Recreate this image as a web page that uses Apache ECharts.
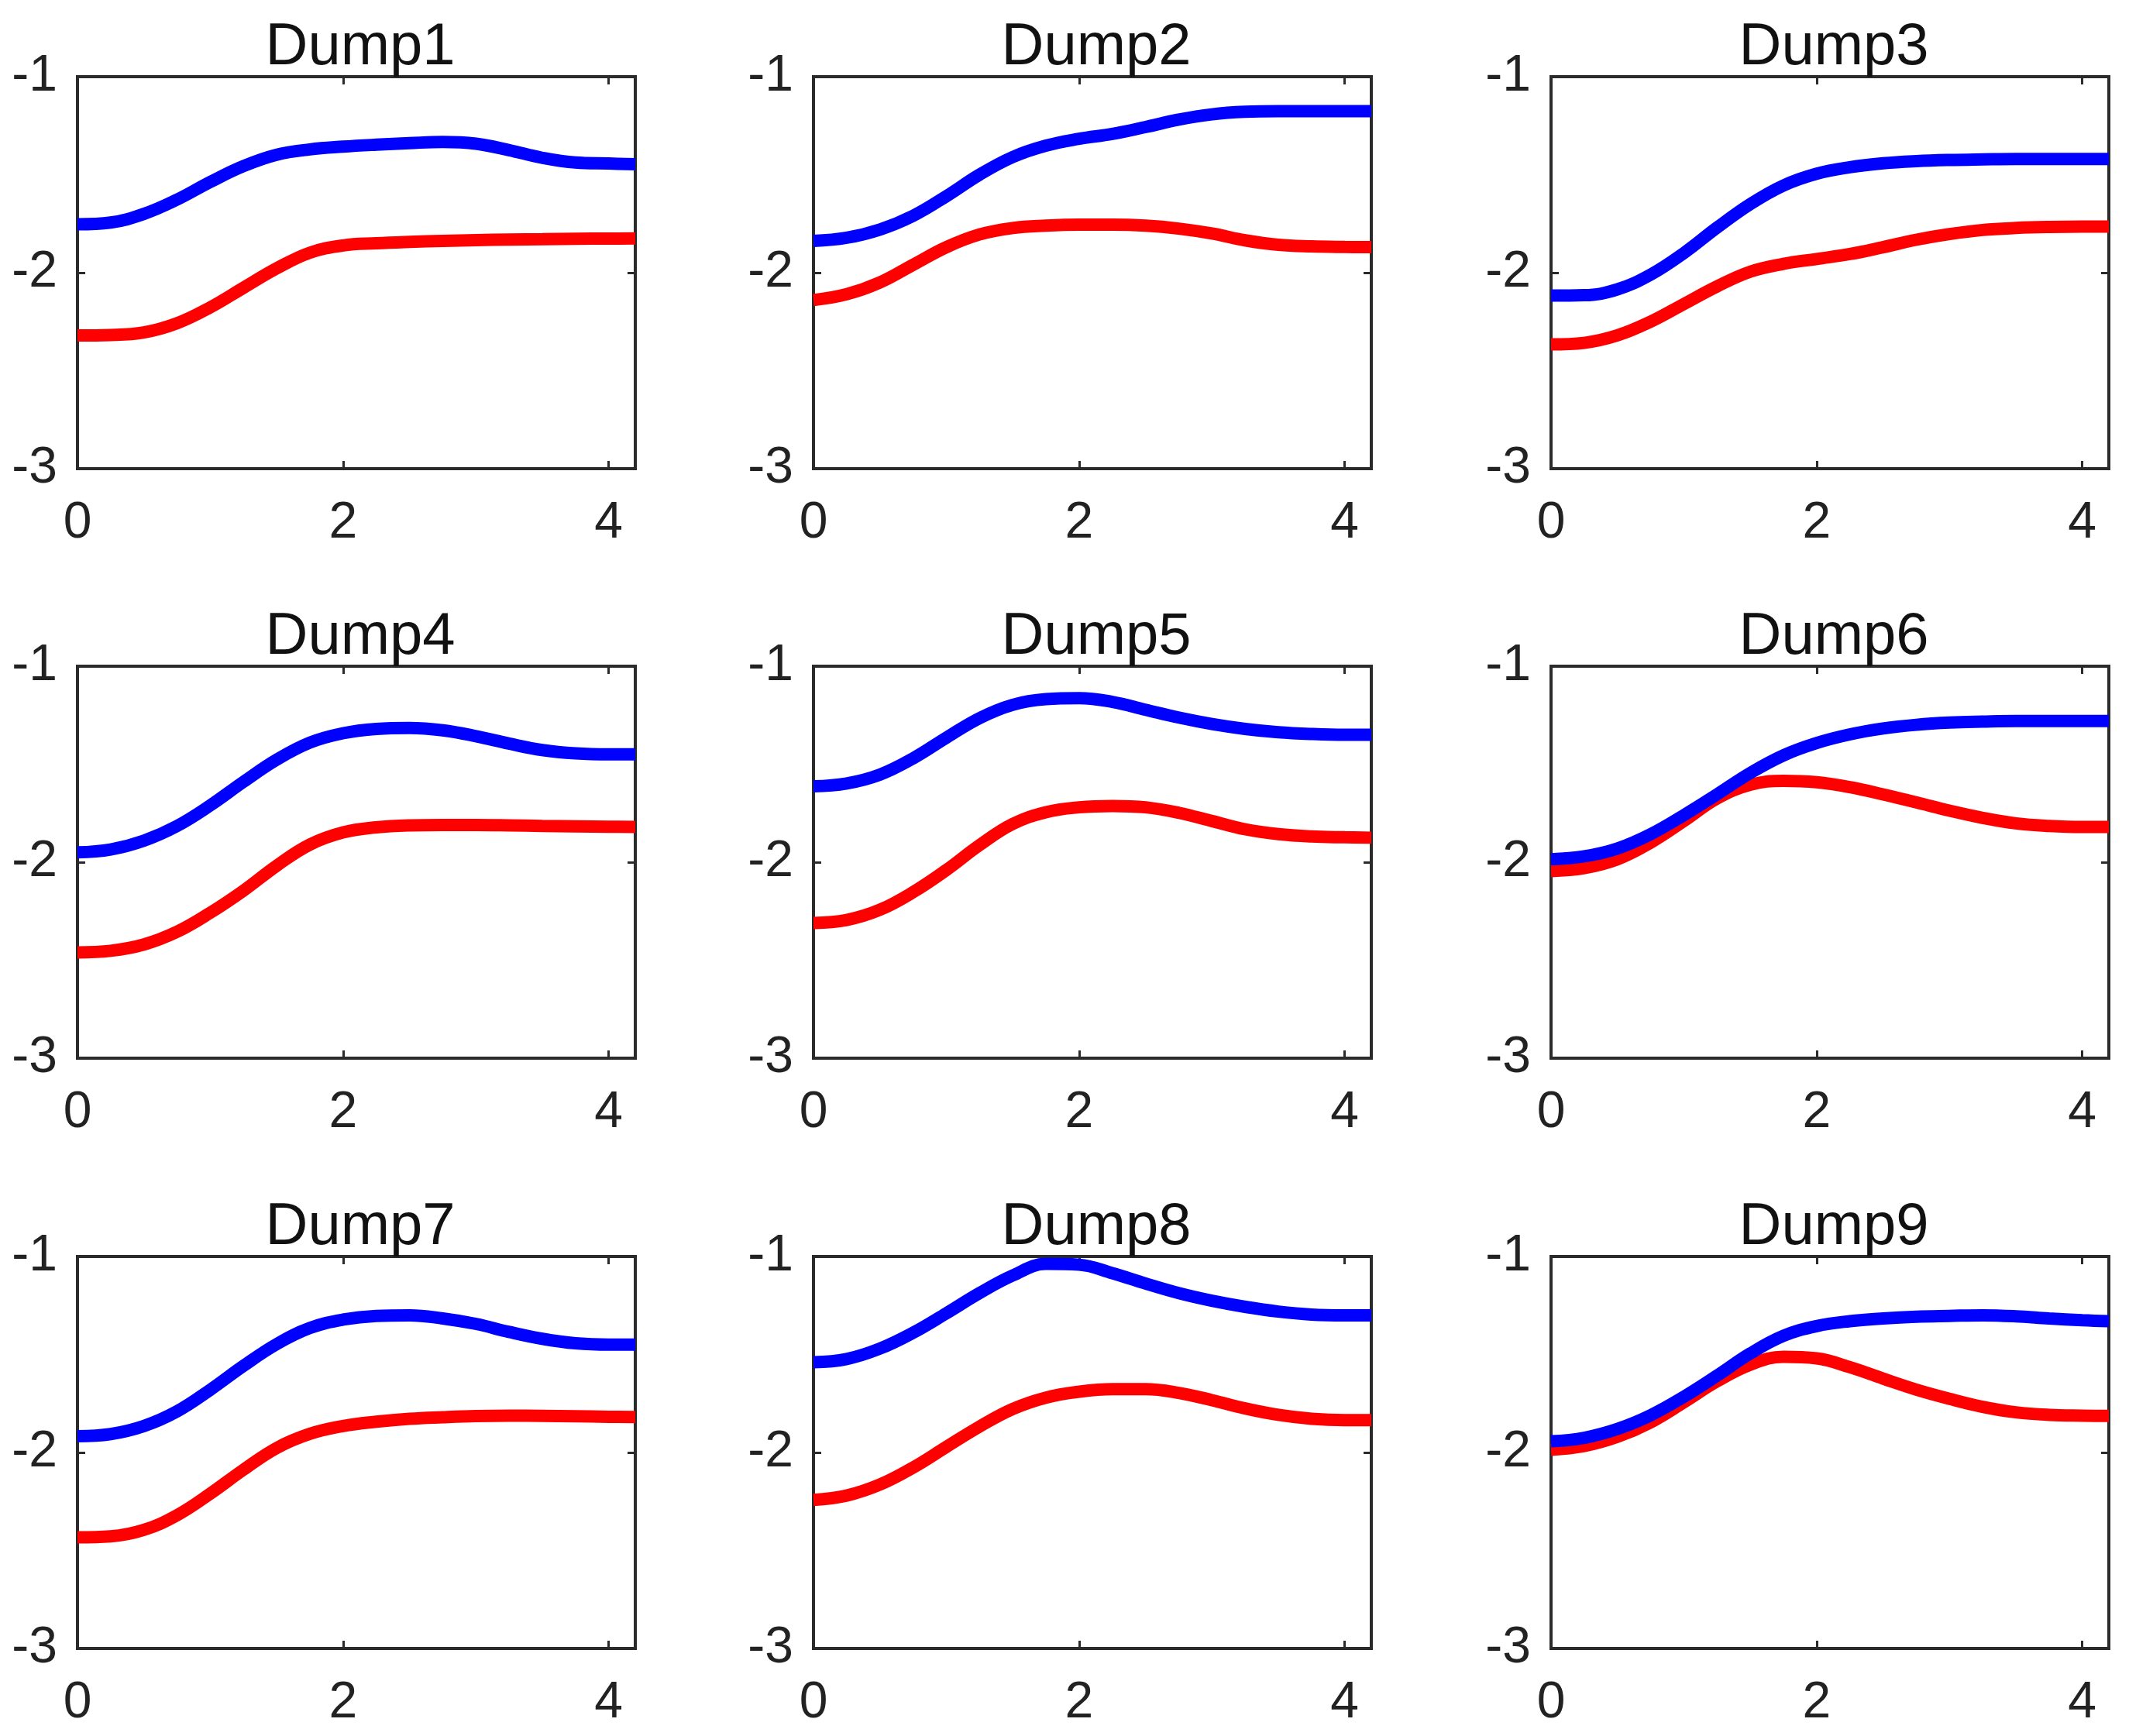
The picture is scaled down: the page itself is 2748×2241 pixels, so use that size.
<!DOCTYPE html>
<html>
<head>
<meta charset="utf-8">
<script src="https://cdn.jsdelivr.net/npm/echarts@6/dist/echarts.min.js"></script>
<style>
html,body{margin:0;padding:0;background:#fff;}
#chart{width:2748px;height:2241px;}
</style>
</head>
<body>
<div id="chart"></div>
<script>
// ---- data ----
const xs = [0,0.25,0.5,0.75,1,1.25,1.5,1.75,2,2.25,2.5,2.75,3,3.25,3.5,3.75,4,4.2];
const titles = ["Dump1","Dump2","Dump3","Dump4","Dump5","Dump6","Dump7","Dump8","Dump9"];
const xTicks = [0,2,4];
const yTicks = [-3,-2,-1];

const blue1 = [-1.753,-1.744,-1.70,-1.627,-1.537,-1.456,-1.398,-1.371,-1.357,-1.347,-1.339,-1.333,-1.342,-1.375,-1.414,-1.438,-1.443,-1.447];
const red1  = [-2.32,-2.318,-2.305,-2.258,-2.177,-2.077,-1.978,-1.898,-1.861,-1.850,-1.843,-1.838,-1.834,-1.831,-1.829,-1.827,-1.826,-1.825];
const blue2 = [-1.838,-1.822,-1.78,-1.71,-1.61,-1.50,-1.41,-1.352,-1.317,-1.292,-1.257,-1.219,-1.192,-1.179,-1.176,-1.176,-1.176,-1.176];
const red2  = [-2.14,-2.11,-2.05,-1.96,-1.87,-1.805,-1.772,-1.76,-1.755,-1.755,-1.76,-1.775,-1.80,-1.835,-1.858,-1.866,-1.869,-1.87];
const blue3 = [-2.117,-2.115,-2.085,-2.01,-1.90,-1.77,-1.65,-1.555,-1.495,-1.462,-1.442,-1.431,-1.425,-1.422,-1.42,-1.42,-1.42,-1.42];
const red3  = [-2.366,-2.358,-2.32,-2.25,-2.16,-2.07,-1.995,-1.955,-1.93,-1.905,-1.87,-1.832,-1.803,-1.782,-1.772,-1.767,-1.765,-1.765];
const blue4 = [-1.95,-1.935,-1.89,-1.815,-1.71,-1.59,-1.477,-1.39,-1.342,-1.32,-1.315,-1.327,-1.357,-1.395,-1.428,-1.445,-1.45,-1.45];
const red4  = [-2.46,-2.452,-2.42,-2.355,-2.258,-2.145,-2.018,-1.91,-1.848,-1.822,-1.812,-1.81,-1.81,-1.812,-1.815,-1.817,-1.819,-1.82];
const blue5 = [-1.613,-1.598,-1.553,-1.47,-1.365,-1.265,-1.197,-1.168,-1.163,-1.182,-1.222,-1.262,-1.295,-1.32,-1.337,-1.346,-1.35,-1.35];
const red5  = [-2.31,-2.295,-2.243,-2.153,-2.04,-1.913,-1.805,-1.745,-1.72,-1.713,-1.72,-1.748,-1.79,-1.832,-1.857,-1.869,-1.873,-1.875];
const blue6 = [-1.985,-1.97,-1.93,-1.857,-1.76,-1.654,-1.545,-1.455,-1.392,-1.348,-1.318,-1.299,-1.288,-1.283,-1.28,-1.28,-1.28,-1.28];
const red6  = [-2.045,-2.03,-1.985,-1.90,-1.79,-1.675,-1.605,-1.585,-1.592,-1.617,-1.654,-1.695,-1.737,-1.774,-1.802,-1.815,-1.82,-1.82];
const blue7 = [-1.917,-1.906,-1.865,-1.79,-1.68,-1.558,-1.447,-1.365,-1.322,-1.303,-1.30,-1.316,-1.344,-1.385,-1.42,-1.443,-1.45,-1.45];
const red7  = [-2.433,-2.428,-2.395,-2.32,-2.21,-2.088,-1.977,-1.905,-1.865,-1.843,-1.828,-1.82,-1.814,-1.812,-1.813,-1.815,-1.818,-1.819];
const blue8 = [-1.54,-1.523,-1.47,-1.389,-1.29,-1.187,-1.097,-1.038,-1.042,-1.085,-1.138,-1.187,-1.226,-1.257,-1.281,-1.296,-1.30,-1.30];
const red8  = [-2.242,-2.22,-2.164,-2.077,-1.972,-1.868,-1.778,-1.72,-1.69,-1.677,-1.677,-1.696,-1.733,-1.775,-1.808,-1.828,-1.835,-1.835];
const blue9 = [-1.943,-1.925,-1.88,-1.81,-1.716,-1.608,-1.495,-1.405,-1.355,-1.33,-1.316,-1.307,-1.303,-1.300,-1.305,-1.316,-1.325,-1.33];
const red9  = [-1.986,-1.967,-1.92,-1.846,-1.744,-1.637,-1.552,-1.512,-1.52,-1.565,-1.623,-1.679,-1.726,-1.767,-1.795,-1.808,-1.812,-1.813];

const blues = [blue1,blue2,blue3,blue4,blue5,blue6,blue7,blue8,blue9];
const reds  = [red1,red2,red3,red4,red5,red6,red7,red8,red9];

// ---- layout ----
const colLeft = [100, 1050, 2002];
const rowTop = [99, 860, 1622];
const W = 720, H = 506;
const FONT = '"Liberation Sans", Arial, Helvetica, sans-serif';
const AX = '#2b2b2b';

const grids = [], xAxes = [], yAxes = [], series = [], titleOpts = [];
const lineAx = {show:true, onZero:false, lineStyle:{color:AX, width:4}};
const tickAx = (vals) => ({show:true, inside:true, length:10, lineStyle:{color:AX,width:3}, customValues:vals});

for (let i = 0; i < 9; i++) {
  const r = Math.floor(i/3), c = i%3;
  grids.push({left: colLeft[c], top: rowTop[r], width: W, height: H, containLabel:false,
              show:true, borderColor:AX, borderWidth:4, backgroundColor:'transparent'});
  xAxes.push({
    type:'value', gridIndex:i, min:0, max:4.2, interval:2, position:'bottom',
    axisLine:lineAx, splitLine:{show:false}, axisTick:tickAx(xTicks),
    axisLabel:{show:true, margin:38, fontSize:66, fontFamily:FONT, color:'#222', customValues:xTicks}
  }, {
    type:'value', gridIndex:i, min:0, max:4.2, interval:2, position:'top',
    axisLine:lineAx, splitLine:{show:false}, axisTick:tickAx(xTicks),
    axisLabel:{show:false}
  });
  yAxes.push({
    type:'value', gridIndex:i, min:-3, max:-1, interval:1, position:'left',
    axisLine:lineAx, splitLine:{show:false}, axisTick:tickAx(yTicks),
    axisLabel:{show:true, margin:26, fontSize:66, fontFamily:FONT, color:'#222', customValues:yTicks}
  }, {
    type:'value', gridIndex:i, min:-3, max:-1, interval:1, position:'right',
    axisLine:lineAx, splitLine:{show:false}, axisTick:tickAx(yTicks),
    axisLabel:{show:false}
  });
  series.push({
    type:'line', xAxisIndex:2*i, yAxisIndex:2*i, smooth:0.4, showSymbol:false, symbol:'none',
    lineStyle:{color:'#ff0000', width:16, cap:'butt'}, clip:true, z:2,
    data: xs.map((x,k)=>[x, reds[i][k]])
  });
  series.push({
    type:'line', xAxisIndex:2*i, yAxisIndex:2*i, smooth:0.4, showSymbol:false, symbol:'none',
    lineStyle:{color:'#0000ff', width:16, cap:'butt'}, clip:true, z:3,
    data: xs.map((x,k)=>[x, blues[i][k]])
  });
  titleOpts.push({
    text: titles[i], left: colLeft[c] + W/2, top: rowTop[r] - 80, textAlign:'center',
    textStyle:{fontSize:76, fontWeight:'normal', fontFamily:FONT, color:'#111'}
  });
}

const chart = echarts.init(document.getElementById('chart'), null, {renderer:'canvas'});
chart.setOption({
  backgroundColor:'#ffffff',
  animation:false,
  title: titleOpts,
  grid: grids,
  xAxis: xAxes,
  yAxis: yAxes,
  series: series
});
</script>
</body>
</html>
